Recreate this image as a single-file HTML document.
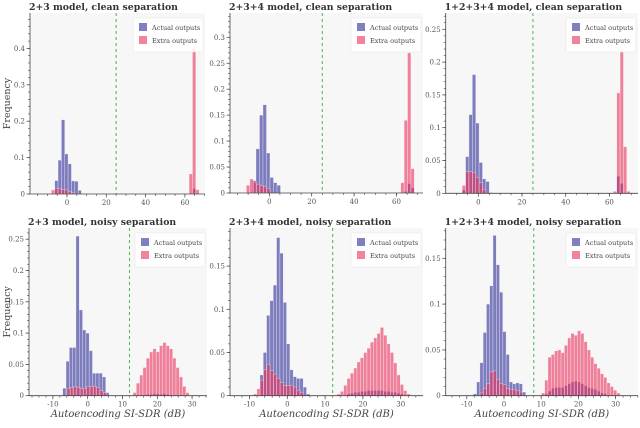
<!DOCTYPE html>
<html><head><meta charset="utf-8"><style>
body{margin:0;background:#fff;width:640px;height:423px;overflow:hidden}
svg text{font-family:"DejaVu Serif","Liberation Serif",serif}
</style></head><body>
<svg id="c" width="640" height="423"></svg>
<script>
// ---- data: each series = [first bin center, bin width, values...]
const p1Actual=[-5.4,1.7,0.037,0.093,0.204,0.11,0.083,0.036,0.035,0.01];
const p1Extra=[-7.1,1.7,0.011,0.016,0.015,0.012,0.011,0.006,0.004];
const p1ExtraHi=[63,1.7,0.055,0.4,0.012];
const p1ActualHi=[64.7,1.7,0.015];
const p2Actual=[-7.1,1.65,0.024,0.085,0.15,0.17,0.077,0.03,0.02,0.015];
const p2Extra=[-10,1.6,0.015,0.027,0.021,0.017,0.014,0.012,0.008];
const p2ExtraHi=[62.8,1.6,0.02,0.14,0.27,0.047];
const p2ActualHi=[64.4,1.6,0.003,0.018,0.01];
const p3Actual=[-6.6,1.55,0.005,0.056,0.12,0.181,0.107,0.047,0.022,0.018,0.001];
const p3Extra=[-6.6,1.55,0.012,0.033,0.033,0.032,0.024,0.016,0.006];
const p3ExtraHi=[62.6,1.53,0.003,0.153,0.216,0.071,0.003];
const p3ActualHi=[64.1,1.53,0.026,0.015];
const p4Actual=[-6.7,0.95,0.012,0.055,0.077,0.077,0.255,0.137,0.105,0.1,0.072,0.036,0.036,0.036,0.03,0.005];
const p4Extra=[-5.5,0.95,0.012,0.013,0.015,0.013,0.012,0.012,0.015,0.015,0.015,0.013,0.008,0.005];
const p4ExtraHi=[13.5,0.95,0.005,0.02,0.033,0.045,0.06,0.07,0.075,0.07,0.08,0.085,0.08,0.075,0.06,0.045,0.03,0.015,0.005];
const p4ActualHi=[17.3,0.95,0.002,0.002,0.003,0.003,0.002,0.003,0.002];
const p5Actual=[-6.8,0.88,0.024,0.05,0.093,0.11,0.128,0.183,0.165,0.108,0.06,0.03,0.022,0.02,0.02,0.01,0.002];
const p5Extra=[-8.5,0.88,0.002,0.008,0.018,0.03,0.036,0.029,0.025,0.02,0.015,0.012,0.012,0.012,0.01,0.006,0.004];
const p5ExtraHi=[13.6,0.88,0.002,0.005,0.012,0.02,0.026,0.032,0.039,0.044,0.05,0.055,0.062,0.067,0.072,0.079,0.07,0.06,0.05,0.038,0.024,0.013,0.006,0.002];
const p5ActualHi=[16.2,0.88,0.002,0.003,0.004,0.004,0.005,0.005,0.006,0.006,0.006,0.006,0.006,0.005,0.005,0.004,0.004,0.003,0.002];
const p6Actual=[-7.8,0.88,0.002,0.015,0.036,0.069,0.1,0.12,0.175,0.143,0.113,0.07,0.045,0.015,0.013,0.014,0.013,0.004];
const p6Extra=[-6,0.88,0.003,0.008,0.013,0.026,0.027,0.018,0.013,0.012,0.008,0.007,0.007,0.006,0.004];
const p6ExtraHi=[10.5,0.88,0.003,0.017,0.042,0.045,0.049,0.05,0.047,0.055,0.063,0.068,0.066,0.071,0.068,0.059,0.05,0.042,0.035,0.03,0.024,0.02,0.014,0.01,0.006,0.003];
const p6ActualHi=[11.4,0.88,0.002,0.005,0.008,0.009,0.009,0.009,0.011,0.013,0.015,0.016,0.015,0.013,0.011,0.009,0.008,0.007,0.005,0.003,0.002];
const titles=["2+3 model, clean separation","2+3+4 model, clean separation","1+2+3+4 model, clean separation","2+3 model, noisy separation","2+3+4 model, noisy separation","1+2+3+4 model, noisy separation"];
const topXTicks=[0,20,40,60];
const botXTicks=[-10,0,10,20,30];
const thresholds=[25,25,25,12,12,8];
const yTicks1=[0,0.1,0.2,0.3,0.4];
const yTicks2=[0,0.05,0.1,0.15,0.2,0.25,0.3];
const yTicks3=[0,0.05,0.1,0.15,0.2,0.25];
const yTicks4=[0,0.05,0.1,0.15,0.2,0.25];
const yTicks5=[0,0.05,0.1,0.15];
const yTicks6=[0,0.05,0.1,0.15];

// ---- layout (pixel geometry)
const panels=[
 {L:30,R:205,T:13,B:194,x0:67,xu:1.965,yu:364,act:[p1Actual,p1ActualHi],ext:[p1Extra,p1ExtraHi],xt:topXTicks,xm:5,yt:yTicks1,ym:0.02,ylab:true,xlab:false},
 {L:230,R:423,T:13,B:193,x0:269.3,xu:2.12,yu:519,act:[p2Actual,p2ActualHi],ext:[p2Extra,p2ExtraHi],xt:topXTicks,xm:5,yt:yTicks2,ym:0.01},
 {L:445.7,R:638,T:13,B:193.3,x0:478.3,xu:2.185,yu:656,act:[p3Actual,p3ActualHi],ext:[p3Extra,p3ExtraHi],xt:topXTicks,xm:5,yt:yTicks3,ym:0.01},
 {L:29,R:207,T:228,B:395.7,x0:87.7,xu:3.48,yu:626,act:[p4Actual,p4ActualHi],ext:[p4Extra,p4ExtraHi],xt:botXTicks,xm:2,yt:yTicks4,ym:0.01,ylab:true,xlab:true},
 {L:230,R:423,T:228,B:395.7,x0:287.3,xu:3.78,yu:864,act:[p5Actual,p5ActualHi],ext:[p5Extra,p5ExtraHi],xt:botXTicks,xm:2,yt:yTicks5,ym:0.01,xlab:true},
 {L:445.7,R:638,T:228,B:395.7,x0:504,xu:3.72,yu:916,act:[p6Actual,p6ActualHi],ext:[p6Extra,p6ExtraHi],xt:botXTicks,xm:2,yt:yTicks6,ym:0.01,xlab:true}
];
const NS="http://www.w3.org/2000/svg";
const svg=document.getElementById('c');
function mk(tag,attrs,parent){const e=document.createElementNS(NS,tag);for(const k in attrs)e.setAttribute(k,attrs[k]);(parent||svg).appendChild(e);return e;}
function fmt(v){return String(+v.toFixed(2));}
panels.forEach((p,i)=>{
  const g=mk('g',{});
  
  
  const X=v=>p.x0+v*p.xu, Y=v=>p.B-v*p.yu;
  const bg=mk('rect',{x:p.L,y:p.T,width:p.R-p.L,height:p.B-p.T,fill:'#f7f7f7'},g);
  
  
  function bars(series,fill,op,name){
    series.forEach(s=>{
      const c0=s[0],w=s[1];
      for(let k=2;k<s.length;k++){
        const c=c0+(k-2)*w,v=s[k];
        const r=mk('rect',{x:X(c-w/2),y:Y(v),width:w*p.xu,height:v*p.yu,fill:fill,'fill-opacity':op,stroke:'#fff','stroke-width':0.5,'stroke-opacity':0.6},g);
        
        
      }
    });
  }
  bars(p.act,'#3c3ca0',0.65,'actual-bar');
  bars(p.ext,'#e8305c',0.6,'extra-bar');
  const th=mk('line',{x1:X(thresholds[i]),x2:X(thresholds[i]),y1:p.T,y2:p.B,stroke:'#4cb84c','stroke-width':1,'stroke-dasharray':'3,3'},g);
  
  
  mk('line',{x1:p.L,x2:p.L,y1:p.T,y2:p.B,stroke:'#444','stroke-width':0.8},g);
  mk('line',{x1:p.L,x2:p.R,y1:p.B,y2:p.B,stroke:'#444','stroke-width':0.8},g);
  const xmin=(p.L-p.x0)/p.xu,xmax=(p.R-p.x0)/p.xu;
  for(let v=Math.ceil(xmin/p.xm)*p.xm;v<=xmax;v+=p.xm){mk('line',{x1:X(v),x2:X(v),y1:p.B,y2:p.B+2,stroke:'#444','stroke-width':0.6},g);}
  p.xt.forEach(v=>{
    mk('line',{x1:X(v),x2:X(v),y1:p.B,y2:p.B+3.5,stroke:'#444','stroke-width':0.7},g);
    const t=mk('text',{x:X(v),y:p.B+11,'font-size':7,fill:'#555','text-anchor':'middle'},g);t.textContent=v;
    
    
  });
  const ymax=(p.B-p.T)/p.yu;
  for(let v=0;v<=ymax+1e-9;v+=p.ym){mk('line',{x1:p.L-2,x2:p.L,y1:Y(v),y2:Y(v),stroke:'#444','stroke-width':0.6},g);}
  p.yt.forEach(v=>{
    mk('line',{x1:p.L-3.5,x2:p.L,y1:Y(v),y2:Y(v),stroke:'#444','stroke-width':0.7},g);
    const t=mk('text',{x:p.L-5,y:Y(v)+2.5,'font-size':7,fill:'#555','text-anchor':'end'},g);t.textContent=fmt(v);
    
    
  });
  const tt=mk('text',{x:p.L-1,y:p.T-3,'font-size':9.3,'font-weight':'bold',fill:'#333'},g);tt.textContent=titles[i];
  
  
  const lx=p.R-72,ly=p.T+5;
  const lg=mk('g',{},g);
  
  
  mk('rect',{x:lx,y:ly,width:70,height:34,fill:'#fff','fill-opacity':0.85,stroke:'#e6e6e6','stroke-width':0.6,rx:2},lg);
  mk('rect',{x:lx+6,y:ly+5,width:8,height:8,fill:'#3c3ca0','fill-opacity':0.65},lg);
  mk('rect',{x:lx+6,y:ly+18,width:8,height:8,fill:'#e8305c','fill-opacity':0.6},lg);
  const a=mk('text',{x:lx+19,y:ly+12,'font-size':6.5,fill:'#444'},lg);a.textContent='Actual outputs';
  
  
  const b=mk('text',{x:lx+19,y:ly+25,'font-size':6.5,fill:'#444'},lg);b.textContent='Extra outputs';
  
  
  if(p.ylab){const yl=mk('text',{x:0,y:0,'font-size':9.5,fill:'#444','text-anchor':'middle',transform:`translate(10,${(p.T+p.B)/2}) rotate(-90)`},g);yl.textContent='Frequency';
    
    }
  if(p.xlab){const xl=mk('text',{x:(p.L+p.R)/2,y:417,'font-size':10,'font-style':'italic',fill:'#444','text-anchor':'middle'},g);xl.textContent='Autoencoding SI-SDR (dB)';
    
    }
});
</script>
</body></html>
